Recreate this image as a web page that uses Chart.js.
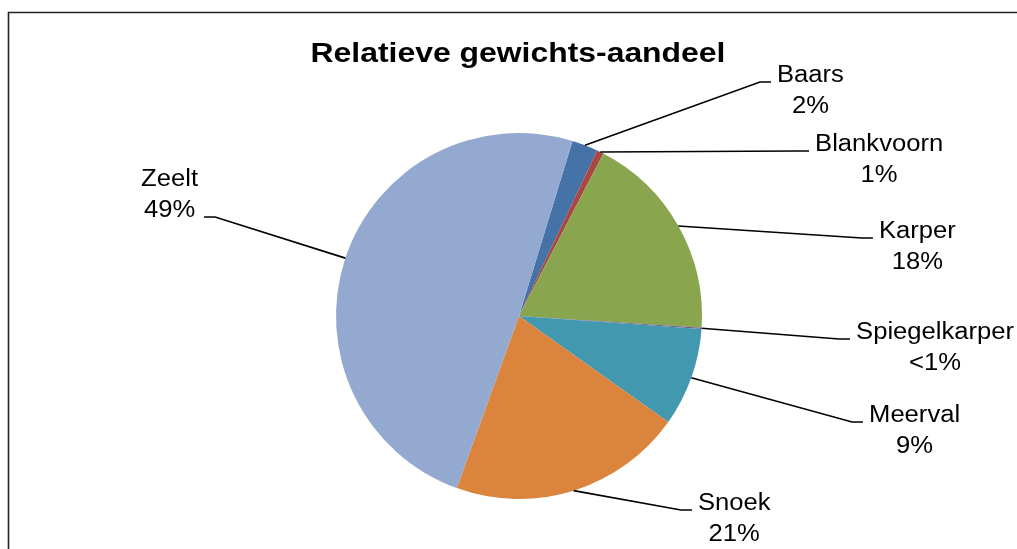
<!DOCTYPE html>
<html>
<head>
<meta charset="utf-8">
<script src="https://cdn.jsdelivr.net/npm/chart.js@4/dist/chart.umd.min.js"></script>
<style>
  body { margin: 0; background: #fff; }
  canvas { display: block; }
</style>
</head>
<body>
<canvas id="pieChart" width="1017" height="549"></canvas>
<script>
// data
var soorten = ["Baars", "Blankvoorn", "Karper", "Spiegelkarper", "Meerval", "Snoek", "Zeelt"];
var aandeel = [2.3, 0.6, 18.4, 0.1, 8.7, 20.7, 49.2];
var kleuren = ["#4572A7", "#AA4643", "#89A54E", "#71588F", "#4198AF", "#DB843D", "#93A9CF"];
var titel = "Relatieve gewichts-aandeel";

// where the leader line ends, in units of the pie radius from the centre
var labelPlek = [
    { x: 1.377, y: -1.279, side: 'r', line: 0 },
    { x: 1.585, y: -0.902, side: 'r', line: 0 },
    { x: 1.934, y: -0.426, side: 'r', line: 0 },
    { x: 1.809, y: 0.126, side: 'r', line: 0 },
    { x: 1.880, y: 0.579, side: 'r', line: 0 },
    { x: 0.945, y: 1.060, side: 'r', line: 0 },
    { x: -1.721, y: -0.541, side: 'l', line: 1 }
];

function pct(v) {
    return v < 0.5 ? "<1%" : Math.round(v) + "%";
}

function tekst(ctx, s, x, y, sx) {
    ctx.save();
    ctx.translate(x, y);
    ctx.scale(sx, 1);
    ctx.fillText(s, 0, 0);
    ctx.restore();
}

var labelsPlugin = {
    id: 'excelLabels',
    afterDatasetsDraw: function(chart) {
        var ctx = chart.ctx;
        var meta = chart.getDatasetMeta(0);
        var sx = 1.09;
        ctx.save();

        // frame
        ctx.strokeStyle = "#222";
        ctx.lineWidth = 1.6;
        ctx.beginPath();
        ctx.moveTo(8.5, chart.height);
        ctx.lineTo(8.5, 12.5);
        ctx.lineTo(chart.width, 12.5);
        ctx.stroke();

        // title
        ctx.fillStyle = "#000";
        ctx.textAlign = "center";
        ctx.textBaseline = "alphabetic";
        ctx.font = "bold 27.5px 'Liberation Sans', Arial, sans-serif";
        tekst(ctx, titel, 518, 61.5, 1.16);

        ctx.font = "23.5px 'Liberation Sans', Arial, sans-serif";
        meta.data.forEach(function(arc, i) {
            var p = arc.getProps(['x', 'y', 'startAngle', 'endAngle', 'outerRadius'], true);
            var mid = (p.startAngle + p.endAngle) / 2;
            var r = p.outerRadius;
            var ex = p.x + r * Math.cos(mid);
            var ey = p.y + r * Math.sin(mid);
            var pl = labelPlek[i];
            var lx = p.x + pl.x * r;
            var ly = p.y + pl.y * r;
            var dir = pl.side === 'r' ? 1 : -1;
            var elbowX = lx - dir * 11;

            ctx.strokeStyle = "#000";
            ctx.lineWidth = 1.6;
            ctx.beginPath();
            ctx.moveTo(ex, ey);
            ctx.lineTo(elbowX, ly);
            ctx.lineTo(lx, ly);
            ctx.stroke();

            var l1 = soorten[i];
            var l2 = pct(aandeel[i]);
            var w = Math.max(ctx.measureText(l1).width, ctx.measureText(l2).width) * sx;
            var cx = lx + dir * (6 + w / 2);
            var base = ly - pl.line * 31;
            tekst(ctx, l1, cx, base, sx);
            tekst(ctx, l2, cx, base + 31, sx);
        });
        ctx.restore();
    }
};

var ctxP = document.getElementById("pieChart").getContext('2d');
var myPieChart = new Chart(ctxP, {
    type: 'pie',
    data: {
        labels: soorten,
        datasets: [{
            data: aandeel,
            backgroundColor: kleuren,
            borderWidth: 0
        }]
    },
    options: {
        responsive: false,
        animation: false,
        rotation: 17,
        layout: {
            padding: { top: 133, bottom: 50, left: 200, right: 179 }
        },
        plugins: {
            legend: { display: false },
            tooltip: { enabled: false },
            title: { display: false }
        }
    },
    plugins: [labelsPlugin]
});
</script>
</body>
</html>
